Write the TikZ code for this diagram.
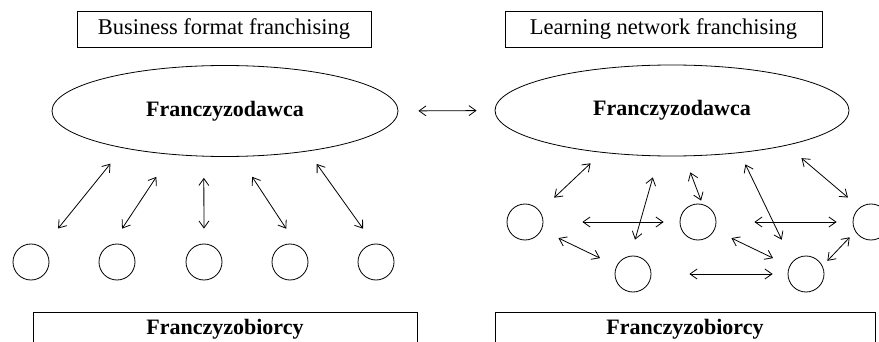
\documentclass[tikz,border=0pt]{standalone}
\usepackage{fontspec}
\setmainfont{Liberation Serif}
\usetikzlibrary{shapes.geometric,arrows.meta}

\begin{document}
\begin{tikzpicture}[x=1pt,y=-1pt,
  typbox/.style={draw,line width=0.8pt,minimum width=#1,minimum height=36pt,inner sep=0pt,font=\fontsize{22.5}{27}\selectfont},
  dawca/.style={draw,ellipse,line width=0.8pt,minimum width=#1,minimum height=91pt,inner sep=0pt,font=\fontsize{22}{26}\selectfont\bfseries},
  biorca/.style={draw,circle,line width=0.8pt,minimum size=36pt,inner sep=0pt},
  grupa/.style={draw,line width=0.8pt,anchor=north,minimum width=#1,inner ysep=7pt,text height=15pt,text depth=30pt,font=\fontsize{22}{26}\selectfont\bfseries},
  link/.style={line width=0.8pt,{Straight Barb[length=7pt,width=10pt]}-{Straight Barb[length=7pt,width=10pt]}}]
  \useasboundingbox (0,0) rectangle (879,342);
  \clip (0,0) rectangle (879,342);

  % business format franchising
  \node[typbox=294pt] (typL) at (224,29) {Business format franchising};
  \node[dawca=346pt] (dawcaL) at (225,111) {Franczyzodawca};
  \foreach \i/\x in {1/31,2/117,3/204,4/290,5/376}
    \node[biorca] (bL\i) at (\x,262) {};
  \node[grupa=384pt] (grupaL) at (225,312) {Franczyzobiorcy};

  \draw[link,shorten <=20pt,shorten >=24.7pt] (dawcaL.200) -- (bL1.51);
  \draw[link,shorten <=26.7pt,shorten >=18.9pt] (dawcaL.219) -- (bL2.107);
  \draw[link,shorten <=21.3pt,shorten >=15pt] (dawcaL.245) -- (bL3.north);
  \draw[link,shorten <=24pt,shorten >=19.4pt] (dawcaL.287) -- (bL4.68);
  \draw[link,shorten <=15.5pt,shorten >=18.5pt] (dawcaL.334) -- (bL5.97);

  % learning network franchising
  \node[typbox=317pt] (typR) at (663.5,29) {Learning network franchising};
  \node[dawca=354pt] (dawcaR) at (672,110.5) {Franczyzodawca};
  \node[biorca] (bA) at (525,222) {};
  \node[biorca] (bB) at (633,274) {};
  \node[biorca] (bC) at (698,222) {};
  \node[biorca] (bD) at (806,274) {};
  \node[biorca] (bE) at (871,222) {};
  \node[grupa=380pt] (grupaR) at (685,312) {Franczyzobiorcy};

  \draw[link,shorten <=15.5pt,shorten >=19.7pt] (dawcaR.211) -- (bA.36);
  \draw[link,shorten <=22pt,shorten >=16.8pt] (dawcaR.254) -- (bB.98);
  \draw[link,shorten <=17.2pt,shorten >=3.8pt] (dawcaR.285) -- (bC.76);
  \draw[link,shorten <=12.7pt,shorten >=24.4pt] (dawcaR.328) -- (bD.138);
  \draw[link,shorten <=19.5pt,shorten >=15.4pt] (dawcaR.343) -- (bE.128);
  \draw[link,shorten <=39pt,shorten >=16pt] (bA.east) -- (bC.west);
  \draw[link,shorten <=38pt,shorten >=16pt] (bC.east) -- (bE.west);
  \draw[link,shorten <=18.7pt,shorten >=18.2pt] (bA) -- (bB);
  \draw[link,shorten <=18.7pt,shorten >=18.2pt] (bC) -- (bD);
  \draw[link,shorten <=38pt,shorten >=15pt] (bB.east) -- (bD.west);
  \draw[link,shorten <=7pt,shorten >=8pt] (bD.26) -- (bE.211);

  \draw[link,shorten <=20pt,shorten >=18pt] (dawcaL.east) -- (dawcaR.west);
\end{tikzpicture}
\end{document}
